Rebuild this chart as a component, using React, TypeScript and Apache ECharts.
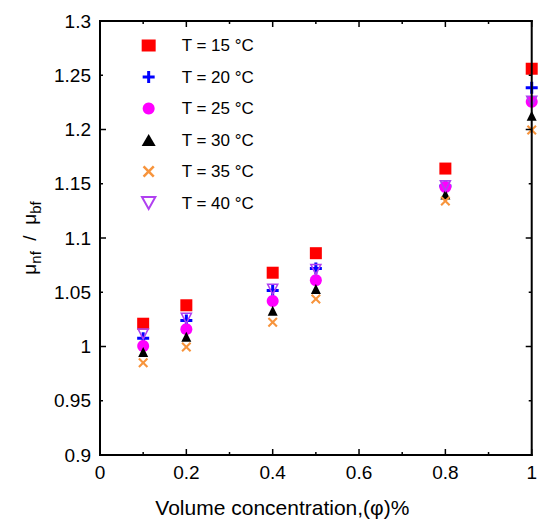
import React, { useEffect, useRef } from "react";
import * as echarts from "echarts";

const concentrations = [0.1, 0.2, 0.4, 0.5, 0.8, 1.0];
const t15 = [1.021, 1.038, 1.068, 1.086, 1.164, 1.256];
const t20 = [1.0075, 1.024, 1.0515, 1.072, 1.148, 1.2385];
const t25 = [1.0005, 1.016, 1.042, 1.061, 1.147, 1.2256];
const t30 = [0.995, 1.009, 1.033, 1.053, 1.14, 1.2127];
const t35 = [0.985, 0.9995, 1.0223, 1.0438, 1.134, 1.1995];
const t40 = [1.0115, 1.026, 1.0527, 1.071, 1.148, 1.226];
const seriesNames = ["T = 15 °C", "T = 20 °C", "T = 25 °C", "T = 30 °C", "T = 35 °C", "T = 40 °C"];

const xMajorTicks = [0, 0.2, 0.4, 0.6, 0.8, 1.0];
const xMinorTicks = [0.1, 0.3, 0.5, 0.7, 0.9];
const yMajorTicks = [0.9, 1.0, 1.1, 1.2, 1.3];
const yMinorTicks = [0.95, 1.05, 1.15, 1.25];
const X_MIN = 0, X_MAX = 1, Y_MIN = 0.9, Y_MAX = 1.3;

const PLUS = "path://M0,4.5H4.5V0H7.5V4.5H12V7.5H7.5V12H4.5V7.5H0Z";
const CROSS = "path://M0,1.5L1.5,0L5,3.5L8.5,0L10,1.5L6.5,5L10,8.5L8.5,10L5,6.5L1.5,10L0,8.5L3.5,5Z";
const DOWN_TRI = "path://M0,0L10,0L5,9Z";

export default function App() {
  const ref = useRef<HTMLDivElement>(null);
  useEffect(() => {
    const chart = echarts.init(ref.current!, null, { renderer: "svg" });
    const font = "Liberation Sans, Arial, sans-serif";
    const mk = (vals: number[]) => concentrations.map((c, i) => [c, vals[i]]);
    const styles = [
      { symbol: "rect", size: 12, itemStyle: { color: "#FF0000", opacity: 1 } },
      { symbol: PLUS, size: 12, itemStyle: { color: "#0000FF", opacity: 1 } },
      { symbol: "circle", size: 12, itemStyle: { color: "#FF00FF", opacity: 1 } },
      { symbol: "triangle", size: 10, itemStyle: { color: "#000000", opacity: 1 } },
      { symbol: CROSS, size: 10, itemStyle: { color: "#F7943C", opacity: 1 } },
      { symbol: DOWN_TRI, size: 10, itemStyle: { color: "transparent", borderColor: "#B040F0", borderWidth: 1.6, opacity: 1 } },
    ];
    const all = [t15, t20, t25, t30, t35, t40];

    const frameRender = (_params: any, api: any) => {
      const tl = api.coord([X_MIN, Y_MAX]);
      const br = api.coord([X_MAX, Y_MIN]);
      const L = tl[0], T = tl[1], R = br[0], B = br[1];
      const bar = (x: number, y: number, w: number, h: number) => ({
        type: "rect",
        shape: { x, y, width: w, height: h },
        style: { fill: "#000" },
      });
      const lw = 2;
      const children: any[] = [
        bar(L - lw / 2, T - lw / 2, R - L + lw, lw),
        bar(L - lw / 2, B - lw / 2, R - L + lw, lw),
        bar(L - lw / 2, T - lw / 2, lw, B - T + lw),
        bar(R - lw / 2, T - lw / 2, lw, B - T + lw),
      ];
      const tw = 1.5;
      const xt = (v: number, len: number) => {
        const px = api.coord([v, Y_MIN])[0];
        children.push(bar(px - tw / 2, B - len, tw, len));
        children.push(bar(px - tw / 2, T, tw, len));
      };
      const yt = (v: number, len: number) => {
        const py = api.coord([X_MIN, v])[1];
        children.push(bar(L, py - tw / 2, len, tw));
        children.push(bar(R - len, py - tw / 2, len, tw));
      };
      xMajorTicks.forEach((v) => xt(v, 6));
      xMinorTicks.forEach((v) => xt(v, 3));
      yMajorTicks.forEach((v) => yt(v, 6));
      yMinorTicks.forEach((v) => yt(v, 3));
      return { type: "group", children };
    };

    chart.setOption({
      animation: false,
      backgroundColor: "#fff",
      textStyle: { fontFamily: font },
      grid: { left: 100, top: 21, right: 4, bottom: 70 },
      legend: {
        orient: "vertical",
        left: 136,
        top: 32,
        itemWidth: 14,
        itemHeight: 12,
        itemGap: 14.5,
        textStyle: { fontSize: 17, color: "#000", fontFamily: font, padding: [0, 0, 0, 21] },
        data: seriesNames,
      },
      xAxis: {
        type: "value", min: X_MIN, max: X_MAX, interval: 0.2,
        axisLine: { show: false },
        axisTick: { show: false },
        axisLabel: { fontSize: 19, color: "#000", margin: 8, fontFamily: font },
        splitLine: { show: false },
        name: "Volume concentration,(φ)%",
        nameLocation: "middle",
        nameGap: 42,
        nameTextStyle: { fontSize: 21, color: "#000", fontFamily: font, padding: [0, 67, 0, 0] },
      },
      yAxis: {
        type: "value", min: Y_MIN, max: Y_MAX, interval: 0.05,
        axisLine: { show: false },
        axisTick: { show: false },
        axisLabel: { fontSize: 19, color: "#000", margin: 9, fontFamily: font },
        splitLine: { show: false },
        name: "{a|μ}{s|nf}{a|  /  μ}{s|bf}",
        nameLocation: "middle",
        nameGap: 46,
        nameTextStyle: {
          color: "#000",
          rich: {
            a: { fontSize: 19, color: "#000", fontFamily: font, lineHeight: 24, verticalAlign: "bottom" },
            s: { fontSize: 15, color: "#000", fontFamily: font, lineHeight: 16, verticalAlign: "bottom", padding: [0, 0, -4, 0] },
          },
        },
      },
      series: [
        ...all.map((vals, i) => ({
          name: seriesNames[i],
          type: "scatter",
          symbol: styles[i].symbol,
          symbolSize: styles[i].size,
          itemStyle: styles[i].itemStyle,
          data: mk(vals),
          clip: false,
          z: 2,
        })),
        {
          name: "frame",
          type: "custom",
          renderItem: frameRender,
          data: [[X_MIN, Y_MIN]],
          silent: true,
          clip: false,
          z: 5,
        },
      ],
    });
    return () => chart.dispose();
  }, []);
  return <div ref={ref} style={{ position: "fixed", left: 0, top: 0, width: 540, height: 525 }} />;
}
